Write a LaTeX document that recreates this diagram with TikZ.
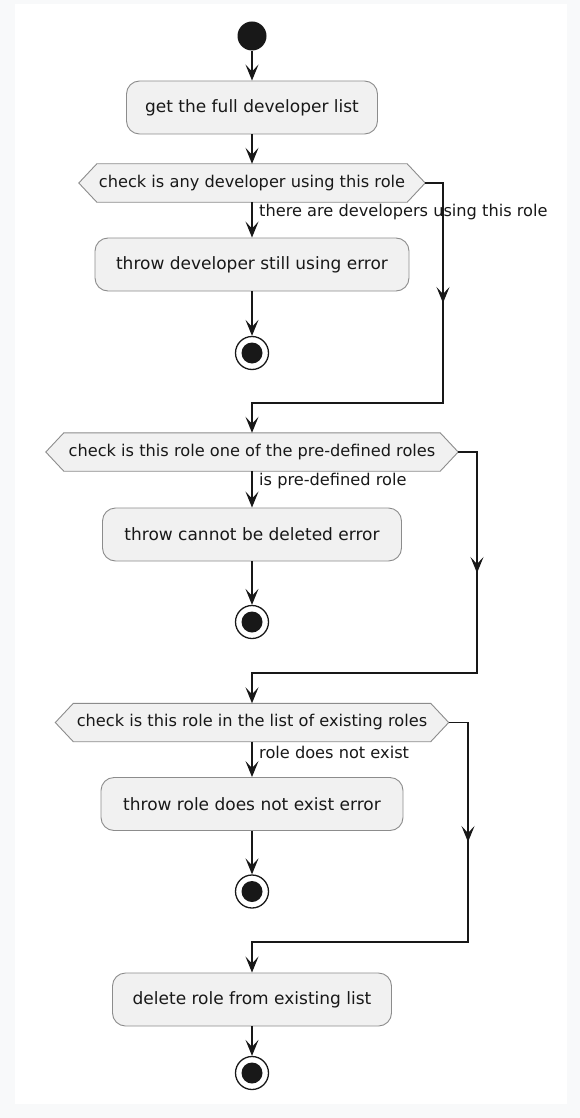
\documentclass[tikz,border=0pt]{standalone}
\usepackage{fontspec}
\setmainfont{DejaVu Sans}
\usetikzlibrary{arrows.meta}
\pgfdeclarelayer{background}
\pgfsetlayers{background,main}
\definecolor{boxfill}{HTML}{F1F1F1}
\definecolor{boxline}{HTML}{8C8C8C}
\definecolor{ink}{HTML}{181818}
\definecolor{outerbg}{HTML}{F8F9FA}
\newcommand\hexof[1]{\begin{pgfonlayer}{background}\path[hexa] (#1.west) -- ([xshift=18pt]#1.north west) -- ([xshift=-18pt]#1.north east) -- (#1.east) -- ([xshift=-18pt]#1.south east) -- ([xshift=18pt]#1.south west) -- cycle;\end{pgfonlayer}}
\begin{document}
\begin{tikzpicture}[x=1pt,y=-1pt,
  act/.style={draw=boxline, fill=boxfill, rounded corners=13pt, minimum height=53pt, inner sep=0pt, font=\fontsize{17}{20}\selectfont, text=ink, line width=0.9pt},
  dectext/.style={minimum height=38pt, inner sep=0pt, font=\fontsize{16.2}{19}\selectfont, text=ink},
  hexa/.style={draw=boxline, fill=boxfill, line width=0.9pt},
  lbl/.style={font=\fontsize{16.2}{19}\selectfont, text=ink, anchor=west, inner sep=0pt},
  flow/.style={draw=ink, line width=1.4pt, -{Stealth[length=16pt,width=13pt,inset=7pt]}},
  startdot/.style={circle, fill=ink, minimum size=29pt, inner sep=0pt},
  enddot/.style={circle, draw=ink, fill=white, line width=1.3pt, minimum size=33pt, inner sep=0pt, path picture={\fill[ink] (path picture bounding box.center) circle (10.5pt);}}
]
\useasboundingbox (0,0) rectangle (580,1118);
\begin{pgfonlayer}{background}
\fill[outerbg] (0,0) rectangle (580,1118);
\fill[white] (15,4) rectangle (567,1104);
\end{pgfonlayer}

\node[startdot] (start) at (252,36) {};
\node[act, minimum width=251pt] (b1) at (252,107.5) {get the full developer list};
\node[dectext, minimum width=346pt] (d1) at (252,183) {check is any developer using this role};
\hexof{d1}
\node[lbl] (l1) at (259,212) {there are developers using this role};
\node[act, minimum width=314pt] (b2) at (252,264.5) {throw developer still using error};
\node[enddot] (e1) at (252,353) {};

\node[dectext, minimum width=412pt] (d2) at (252,452) {check is this role one of the pre-defined roles};
\hexof{d2}
\node[lbl] (l2) at (259,481) {is pre-defined role};
\node[act, minimum width=299pt] (b3) at (252,534.5) {throw cannot be deleted error};
\node[enddot] (e2) at (252,622) {};

\node[dectext, minimum width=393pt] (d3) at (252,722.5) {check is this role in the list of existing roles};
\hexof{d3}
\node[lbl] (l3) at (259,752) {role does not exist};
\node[act, minimum width=302pt] (b4) at (252,804) {throw role does not exist error};
\node[enddot] (e3) at (252,891.5) {};

\node[act, minimum width=279pt] (b5) at (252,999.5) {delete role from existing list};
\node[enddot] (e4) at (252,1073) {};

\coordinate (r1a) at (443,183);
\coordinate (r1m) at (443,303);
\coordinate (r1b) at (443,403);
\coordinate (r2a) at (477,452);
\coordinate (r2m) at (477,573);
\coordinate (r2b) at (477,673);
\coordinate (r3a) at (468,722.5);
\coordinate (r3m) at (468,842);
\coordinate (r3b) at (468,942);

\draw[flow] (start) -- (b1.north);
\draw[flow] (b1.south) -- (d1.north);
\draw[flow] (d1.south) -- (b2.north);
\draw[flow] (b2.south) -- (e1.north);
\draw[flow] (d1.east) -- (r1a) -- (r1b) -| (d2.north);
\draw[flow] (r1a) -- (r1m);

\draw[flow] (d2.south) -- (b3.north);
\draw[flow] (b3.south) -- (e2.north);
\draw[flow] (d2.east) -- (r2a) -- (r2b) -| (d3.north);
\draw[flow] (r2a) -- (r2m);

\draw[flow] (d3.south) -- (b4.north);
\draw[flow] (b4.south) -- (e3.north);
\draw[flow] (d3.east) -- (r3a) -- (r3b) -| (b5.north);
\draw[flow] (r3a) -- (r3m);

\draw[flow] (b5.south) -- (e4.north);
\end{tikzpicture}
\end{document}
